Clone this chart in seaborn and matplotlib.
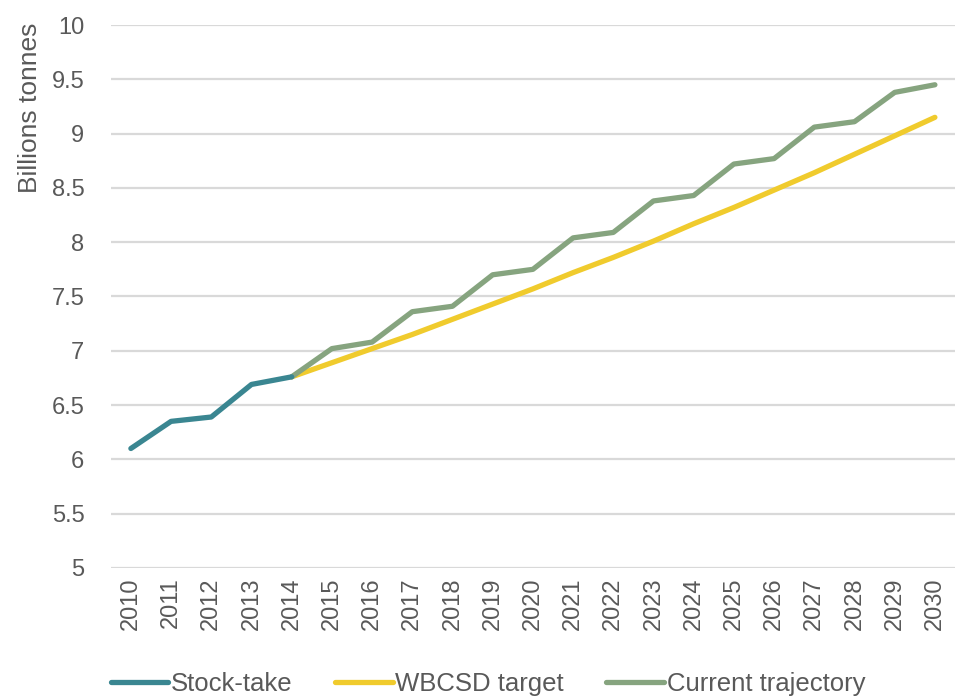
import numpy as np
import pandas as pd
import matplotlib
matplotlib.use("Agg")
import matplotlib.pyplot as plt
import seaborn as sns

# Data (billions of tonnes)
years_stock = [2010, 2011, 2012, 2013, 2014]
stock_take = [6.10, 6.35, 6.39, 6.69, 6.76]

years_future = list(range(2014, 2031))
wbcsd_target = [6.76, 6.89, 7.02, 7.15, 7.29, 7.43, 7.57, 7.72, 7.86,
                8.01, 8.17, 8.32, 8.48, 8.64, 8.81, 8.98, 9.15]
current_trajectory = [6.76, 7.02, 7.08, 7.36, 7.41, 7.70, 7.75, 8.04, 8.09,
                      8.38, 8.43, 8.72, 8.77, 9.06, 9.11, 9.38, 9.45]

series_names = ["Stock-take", "WBCSD target", "Current trajectory"]
colors = ["#3A8691", "#F0CB2D", "#86A47F"]
year_labels = [str(y) for y in range(2010, 2031)]
y_labels = ["5", "5.5", "6", "6.5", "7", "7.5", "8", "8.5", "9", "9.5", "10"]

df = pd.concat([
    pd.DataFrame({"Year": years_stock, "Value": stock_take, "Series": series_names[0]}),
    pd.DataFrame({"Year": years_future, "Value": wbcsd_target, "Series": series_names[1]}),
    pd.DataFrame({"Year": years_future, "Value": current_trajectory, "Series": series_names[2]}),
])

sns.set_style("white")
plt.rcParams["font.family"] = ["Liberation Sans", "DejaVu Sans"]

fig = plt.figure(figsize=(9.55, 6.96), dpi=100)
ax = fig.add_axes([0.116, 0.184, 0.884, 0.78])

ax.grid(axis="y", color="#D9D9D9", linewidth=1.6, zorder=0)
ax.set_axisbelow(True)

sns.lineplot(data=df, x="Year", y="Value", hue="Series", hue_order=series_names,
             palette=colors, linewidth=3.8, ax=ax, legend=False, zorder=3)
# keep stock-take on top
ax.lines[0].set_zorder(5)

ax.set_xlim(2009.5, 2030.5)
ax.set_ylim(5, 10)
ax.set_yticks(np.arange(5, 10.01, 0.5))
ax.set_yticklabels(y_labels)
ax.set_xticks(range(2010, 2031))
ax.set_xticklabels(year_labels, rotation=90)
ax.tick_params(axis="both", labelsize=17, labelcolor="#595959", length=0)
ax.tick_params(axis="y", pad=19)
ax.tick_params(axis="x", pad=7)

for s in ax.spines.values():
    s.set_visible(False)

ax.set_xlabel("")
ax.set_ylabel("Billions tonnes", fontsize=19, color="#595959")
ax.yaxis.set_label_coords(-0.082, 0.847)

handles = [plt.Line2D([0], [0], color=c, linewidth=3.8) for c in colors]
fig.legend(handles, series_names, loc="lower left", ncol=3, frameon=False,
           bbox_to_anchor=(0.0915, -0.033), fontsize=18.5, handlelength=2.25,
           handletextpad=0.1, columnspacing=1.65, labelcolor="#595959")

fig.savefig("out.png", dpi=100)
